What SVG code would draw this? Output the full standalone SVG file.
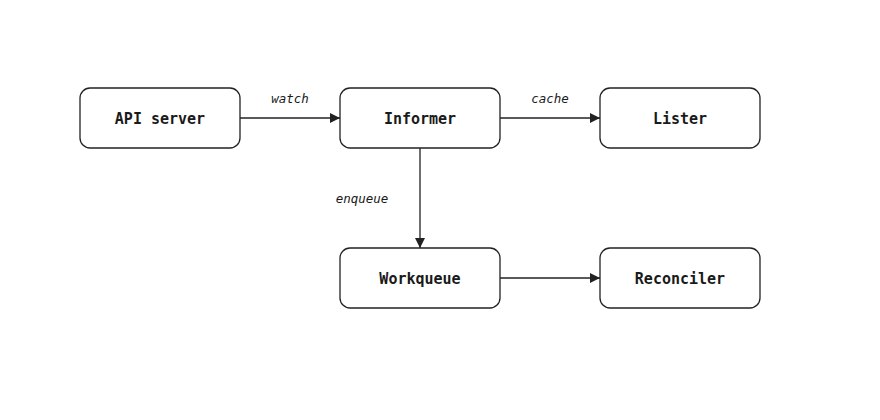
<svg xmlns="http://www.w3.org/2000/svg" width="880" height="420" viewBox="0 0 880 420">
<style>
.node rect{fill:#fff;stroke:#222;stroke-width:1.3}
.node text{font-family:"DejaVu Sans Mono","Liberation Mono",monospace;font-weight:bold;font-size:15px;fill:#1a1a1a;text-anchor:middle}
.edge{stroke:#222;stroke-width:1.3;fill:none}
.lbl{font-family:"DejaVu Sans Mono","Liberation Mono",monospace;font-style:italic;font-size:12.5px;fill:#1a1a1a;text-anchor:middle}
</style>
<defs>
<marker id="arr" viewBox="0 0 10 10" refX="10" refY="5" markerWidth="10" markerHeight="10" markerUnits="userSpaceOnUse" orient="auto">
<path d="M0,0 L10,5 L0,10 z" fill="#222"/>
</marker>
</defs>
<rect width="880" height="420" fill="#fff"/>
<g id="connectors">
<line class="edge" x1="240" y1="118" x2="340" y2="118" marker-end="url(#arr)"/>
<line class="edge" x1="500" y1="118" x2="600" y2="118" marker-end="url(#arr)"/>
<line class="edge" x1="420" y1="148" x2="420" y2="248" marker-end="url(#arr)"/>
<line class="edge" x1="500" y1="278" x2="600" y2="278" marker-end="url(#arr)"/>
<text class="lbl" x="290" y="103">watch</text>
<text class="lbl" x="550" y="103">cache</text>
<text class="lbl" x="362" y="203">enqueue</text>
</g>
<g id="api" class="node"><rect x="80" y="88" width="160" height="60" rx="10"/><text x="160" y="124">API server</text></g>
<g id="informer" class="node"><rect x="340" y="88" width="160" height="60" rx="10"/><text x="420" y="124">Informer</text></g>
<g id="lister" class="node"><rect x="600" y="88" width="160" height="60" rx="10"/><text x="680" y="124">Lister</text></g>
<g id="workqueue" class="node"><rect x="340" y="248" width="160" height="60" rx="10"/><text x="420" y="284">Workqueue</text></g>
<g id="reconciler" class="node"><rect x="600" y="248" width="160" height="60" rx="10"/><text x="680" y="284">Reconciler</text></g>
</svg>
